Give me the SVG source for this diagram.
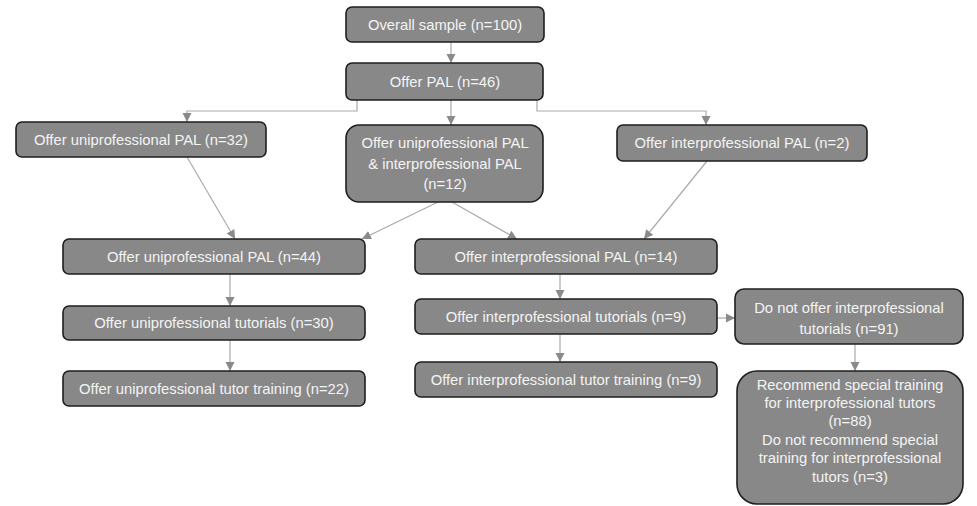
<svg xmlns="http://www.w3.org/2000/svg" width="977" height="506" viewBox="0 0 977 506">
<defs>
<marker id="arr" markerUnits="userSpaceOnUse" markerWidth="10" markerHeight="10" refX="9" refY="5" orient="auto">
<path d="M0,0.5 L9,5 L0,9.5 Z" fill="#8a8a8a"/>
</marker>
<style>
.n rect{fill:#888888;stroke:#1e1e1e;stroke-width:1.6}
.n text{fill:#f4f4f4;font-family:"Liberation Sans","Open Sans",sans-serif;font-size:14.8px;text-anchor:middle}
.c path{fill:none;stroke:#aaaaaa;stroke-width:1.2;marker-end:url(#arr)}
</style>
</defs>
<rect width="977" height="506" fill="#ffffff"/>
<g class="c" id="connectors">
<path d="M451,42 V63"/>
<path d="M357,100 V111 H187 V122"/>
<path d="M451,100 V125"/>
<path d="M537,100 V111 H706 V125"/>
<path d="M187,157 L235,239"/>
<path d="M438,202 L362,239"/>
<path d="M452,202 L517,239"/>
<path d="M707,161 L644,239"/>
<path d="M230,274 V306"/>
<path d="M230,340 V371"/>
<path d="M560,274 V299"/>
<path d="M560,334 V362"/>
<path d="M717,318 H735"/>
<path d="M855,344 V371"/>
</g>
<g class="n" id="overall"><rect x="346" y="7" width="198" height="35" rx="6"/><text x="445" y="30">Overall sample (n=100)</text></g>
<g class="n" id="pal"><rect x="346" y="63" width="197" height="37" rx="6"/><text x="445" y="87">Offer PAL (n=46)</text></g>
<g class="n" id="uni32"><rect x="16" y="122" width="250" height="35" rx="6"/><text x="141" y="145">Offer uniprofessional PAL (n=32)</text></g>
<g class="n" id="both12"><rect x="346" y="125" width="197" height="77" rx="13"/><text x="445" y="148">Offer uniprofessional PAL</text><text x="445" y="169">&amp; interprofessional PAL</text><text x="445" y="189">(n=12)</text></g>
<g class="n" id="inter2"><rect x="617" y="125" width="250" height="36" rx="6"/><text x="742" y="148">Offer interprofessional PAL (n=2)</text></g>
<g class="n" id="uni44"><rect x="63" y="239" width="302" height="35" rx="6"/><text x="214" y="262">Offer uniprofessional PAL (n=44)</text></g>
<g class="n" id="uni30"><rect x="63" y="306" width="302" height="34" rx="6"/><text x="214" y="328">Offer uniprofessional tutorials (n=30)</text></g>
<g class="n" id="uni22"><rect x="63" y="371" width="302" height="35" rx="6"/><text x="214" y="394">Offer uniprofessional tutor training (n=22)</text></g>
<g class="n" id="inter14"><rect x="415" y="239" width="302" height="35" rx="6"/><text x="566" y="262">Offer interprofessional PAL (n=14)</text></g>
<g class="n" id="inter9t"><rect x="415" y="299" width="302" height="35" rx="6"/><text x="566" y="322">Offer interprofessional tutorials (n=9)</text></g>
<g class="n" id="inter9tt"><rect x="415" y="362" width="302" height="35" rx="6"/><text x="566" y="385">Offer interprofessional tutor training (n=9)</text></g>
<g class="n" id="nooffer"><rect x="735" y="289" width="228" height="55" rx="9"/><text x="849" y="313">Do not offer interprofessional</text><text x="849" y="334">tutorials (n=91)</text></g>
<g class="n" id="recommend"><rect x="737" y="371" width="226" height="133" rx="20"/><text x="850" y="390">Recommend special training</text><text x="850" y="408">for interprofessional tutors</text><text x="850" y="426">(n=88)</text><text x="850" y="445">Do not recommend special</text><text x="850" y="463">training for interprofessional</text><text x="850" y="482">tutors (n=3)</text></g>
</svg>
